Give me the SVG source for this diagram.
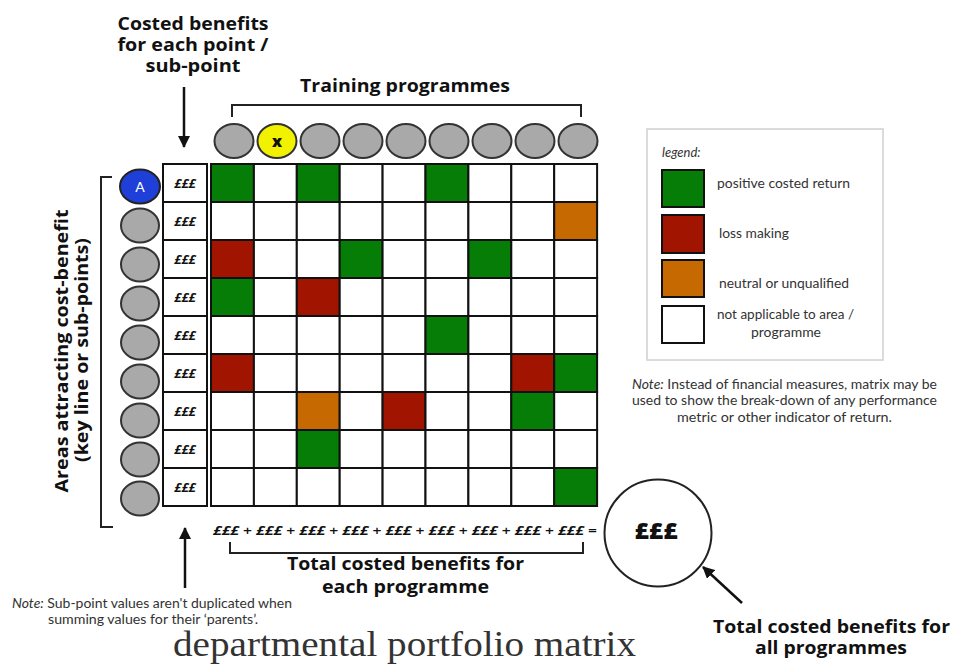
<svg xmlns="http://www.w3.org/2000/svg" width="969" height="667" viewBox="0 0 969 667">
<defs>
<style>
.lbl{font-family:"Open Sans","Liberation Sans",sans-serif;font-weight:700;font-size:17px;fill:#111;text-anchor:middle}
.leg{font-family:Lato,"Liberation Sans",sans-serif;font-size:13px;fill:#333}
.note{font-family:Lato,"Liberation Sans",sans-serif;font-size:12.5px;fill:#333}
.pd{font-family:"Open Sans","Liberation Sans",sans-serif;font-weight:700;font-style:italic;font-size:13px;fill:#111;text-anchor:middle}
.cell{stroke:#111;stroke-width:2}
.w{fill:#fff}.g{fill:#067d06}.r{fill:#a01400}.o{fill:#c66900}
.circ{fill:#a9a9a9;stroke:#333;stroke-width:2}
.ln{fill:none;stroke:#222;stroke-width:2}
.pp{font-weight:700;font-style:italic}
</style>
<marker id="ah" viewBox="0 0 12 12" refX="11" refY="6" markerWidth="12" markerHeight="12" markerUnits="userSpaceOnUse" orient="auto">
<path d="M0,0 L12,6 L0,12 z" fill="#111"/>
</marker>
</defs>
<rect width="969" height="667" fill="#fff"/>

<g id="title-costed">
<text class="lbl" x="193" y="30" textLength="151" lengthAdjust="spacingAndGlyphs">Costed benefits</text>
<text class="lbl" x="193" y="51" textLength="151" lengthAdjust="spacingAndGlyphs">for each point /</text>
<text class="lbl" x="193" y="72" textLength="95" lengthAdjust="spacingAndGlyphs">sub-point</text>
</g>
<g id="title-training">
<text class="lbl" x="405" y="92" textLength="210" lengthAdjust="spacingAndGlyphs">Training programmes</text>
</g>
<g id="title-areas">
<text class="lbl" transform="translate(68,351) rotate(-90)" textLength="283" lengthAdjust="spacingAndGlyphs">Areas attracting cost-benefit</text>
<text class="lbl" transform="translate(88,350) rotate(-90)" textLength="224" lengthAdjust="spacingAndGlyphs">(key line or sub-points)</text>
</g>

<g id="connectors">
<path class="ln" d="M232,117 V105 H581 V117"/>
<path class="ln" d="M112,177 H101 V527 H113"/>
<path class="ln" d="M230,542 V553 H583 V542"/>
<line x1="184" y1="87" x2="184" y2="147" stroke="#111" stroke-width="2.5" marker-end="url(#ah)"/>
<line x1="185" y1="588" x2="185" y2="528" stroke="#111" stroke-width="2.5" marker-end="url(#ah)"/>
<line x1="742" y1="603" x2="703" y2="567" stroke="#111" stroke-width="2.5" marker-end="url(#ah)"/>
</g>

<g id="programmes">
<ellipse class="circ" cx="234" cy="141" rx="19.5" ry="17"/>
<ellipse cx="277" cy="141" rx="19.5" ry="17" fill="#f2f200" stroke="#333" stroke-width="2"/>
<text x="277" y="146.5" font-family="'Open Sans','Liberation Sans',sans-serif" font-weight="800" font-size="16" text-anchor="middle" fill="#111">x</text>
<ellipse class="circ" cx="320" cy="141" rx="19.5" ry="17"/>
<ellipse class="circ" cx="363" cy="141" rx="19.5" ry="17"/>
<ellipse class="circ" cx="406" cy="141" rx="19.5" ry="17"/>
<ellipse class="circ" cx="449" cy="141" rx="19.5" ry="17"/>
<ellipse class="circ" cx="492" cy="141" rx="19.5" ry="17"/>
<ellipse class="circ" cx="535" cy="141" rx="19.5" ry="17"/>
<ellipse class="circ" cx="578" cy="141" rx="19.5" ry="17"/>
</g>

<g id="areas">
<ellipse cx="140" cy="186.5" rx="20" ry="17" fill="#1e40d8" stroke="#222" stroke-width="2"/>
<text x="140" y="192" font-family="Lato,'Liberation Sans',sans-serif" font-size="14" text-anchor="middle" fill="#fff">A</text>
<ellipse class="circ" cx="140" cy="225.5" rx="19" ry="17"/>
<ellipse class="circ" cx="140" cy="264.5" rx="19" ry="17"/>
<ellipse class="circ" cx="140" cy="303.5" rx="19" ry="17"/>
<ellipse class="circ" cx="140" cy="342.5" rx="19" ry="17"/>
<ellipse class="circ" cx="140" cy="381.5" rx="19" ry="17"/>
<ellipse class="circ" cx="140" cy="420.5" rx="19" ry="17"/>
<ellipse class="circ" cx="140" cy="459.5" rx="19" ry="17"/>
<ellipse class="circ" cx="140" cy="498.5" rx="19" ry="17"/>
</g>

<g id="point-costs">
<rect class="cell w" x="163" y="164" width="44" height="38"/>
<rect class="cell w" x="163" y="202" width="44" height="38"/>
<rect class="cell w" x="163" y="240" width="44" height="38"/>
<rect class="cell w" x="163" y="278" width="44" height="38"/>
<rect class="cell w" x="163" y="316" width="44" height="38"/>
<rect class="cell w" x="163" y="354" width="44" height="38"/>
<rect class="cell w" x="163" y="392" width="44" height="38"/>
<rect class="cell w" x="163" y="430" width="44" height="38"/>
<rect class="cell w" x="163" y="468" width="44" height="38"/>
<text class="pd" x="185" y="188">£££</text>
<text class="pd" x="185" y="226">£££</text>
<text class="pd" x="185" y="264">£££</text>
<text class="pd" x="185" y="302">£££</text>
<text class="pd" x="185" y="340">£££</text>
<text class="pd" x="185" y="378">£££</text>
<text class="pd" x="185" y="416">£££</text>
<text class="pd" x="185" y="454">£££</text>
<text class="pd" x="185" y="492">£££</text>
</g>

<g id="matrix">
<rect class="cell g" x="211" y="164" width="42.9" height="38"/>
<rect class="cell w" x="253.9" y="164" width="42.9" height="38"/>
<rect class="cell g" x="296.8" y="164" width="42.9" height="38"/>
<rect class="cell w" x="339.7" y="164" width="42.9" height="38"/>
<rect class="cell w" x="382.6" y="164" width="42.9" height="38"/>
<rect class="cell g" x="425.5" y="164" width="42.9" height="38"/>
<rect class="cell w" x="468.4" y="164" width="42.9" height="38"/>
<rect class="cell w" x="511.3" y="164" width="42.9" height="38"/>
<rect class="cell w" x="554.2" y="164" width="42.9" height="38"/>
<rect class="cell w" x="211" y="202" width="42.9" height="38"/>
<rect class="cell w" x="253.9" y="202" width="42.9" height="38"/>
<rect class="cell w" x="296.8" y="202" width="42.9" height="38"/>
<rect class="cell w" x="339.7" y="202" width="42.9" height="38"/>
<rect class="cell w" x="382.6" y="202" width="42.9" height="38"/>
<rect class="cell w" x="425.5" y="202" width="42.9" height="38"/>
<rect class="cell w" x="468.4" y="202" width="42.9" height="38"/>
<rect class="cell w" x="511.3" y="202" width="42.9" height="38"/>
<rect class="cell o" x="554.2" y="202" width="42.9" height="38"/>
<rect class="cell r" x="211" y="240" width="42.9" height="38"/>
<rect class="cell w" x="253.9" y="240" width="42.9" height="38"/>
<rect class="cell w" x="296.8" y="240" width="42.9" height="38"/>
<rect class="cell g" x="339.7" y="240" width="42.9" height="38"/>
<rect class="cell w" x="382.6" y="240" width="42.9" height="38"/>
<rect class="cell w" x="425.5" y="240" width="42.9" height="38"/>
<rect class="cell g" x="468.4" y="240" width="42.9" height="38"/>
<rect class="cell w" x="511.3" y="240" width="42.9" height="38"/>
<rect class="cell w" x="554.2" y="240" width="42.9" height="38"/>
<rect class="cell g" x="211" y="278" width="42.9" height="38"/>
<rect class="cell w" x="253.9" y="278" width="42.9" height="38"/>
<rect class="cell r" x="296.8" y="278" width="42.9" height="38"/>
<rect class="cell w" x="339.7" y="278" width="42.9" height="38"/>
<rect class="cell w" x="382.6" y="278" width="42.9" height="38"/>
<rect class="cell w" x="425.5" y="278" width="42.9" height="38"/>
<rect class="cell w" x="468.4" y="278" width="42.9" height="38"/>
<rect class="cell w" x="511.3" y="278" width="42.9" height="38"/>
<rect class="cell w" x="554.2" y="278" width="42.9" height="38"/>
<rect class="cell w" x="211" y="316" width="42.9" height="38"/>
<rect class="cell w" x="253.9" y="316" width="42.9" height="38"/>
<rect class="cell w" x="296.8" y="316" width="42.9" height="38"/>
<rect class="cell w" x="339.7" y="316" width="42.9" height="38"/>
<rect class="cell w" x="382.6" y="316" width="42.9" height="38"/>
<rect class="cell g" x="425.5" y="316" width="42.9" height="38"/>
<rect class="cell w" x="468.4" y="316" width="42.9" height="38"/>
<rect class="cell w" x="511.3" y="316" width="42.9" height="38"/>
<rect class="cell w" x="554.2" y="316" width="42.9" height="38"/>
<rect class="cell r" x="211" y="354" width="42.9" height="38"/>
<rect class="cell w" x="253.9" y="354" width="42.9" height="38"/>
<rect class="cell w" x="296.8" y="354" width="42.9" height="38"/>
<rect class="cell w" x="339.7" y="354" width="42.9" height="38"/>
<rect class="cell w" x="382.6" y="354" width="42.9" height="38"/>
<rect class="cell w" x="425.5" y="354" width="42.9" height="38"/>
<rect class="cell w" x="468.4" y="354" width="42.9" height="38"/>
<rect class="cell r" x="511.3" y="354" width="42.9" height="38"/>
<rect class="cell g" x="554.2" y="354" width="42.9" height="38"/>
<rect class="cell w" x="211" y="392" width="42.9" height="38"/>
<rect class="cell w" x="253.9" y="392" width="42.9" height="38"/>
<rect class="cell o" x="296.8" y="392" width="42.9" height="38"/>
<rect class="cell w" x="339.7" y="392" width="42.9" height="38"/>
<rect class="cell r" x="382.6" y="392" width="42.9" height="38"/>
<rect class="cell w" x="425.5" y="392" width="42.9" height="38"/>
<rect class="cell w" x="468.4" y="392" width="42.9" height="38"/>
<rect class="cell g" x="511.3" y="392" width="42.9" height="38"/>
<rect class="cell w" x="554.2" y="392" width="42.9" height="38"/>
<rect class="cell w" x="211" y="430" width="42.9" height="38"/>
<rect class="cell w" x="253.9" y="430" width="42.9" height="38"/>
<rect class="cell g" x="296.8" y="430" width="42.9" height="38"/>
<rect class="cell w" x="339.7" y="430" width="42.9" height="38"/>
<rect class="cell w" x="382.6" y="430" width="42.9" height="38"/>
<rect class="cell w" x="425.5" y="430" width="42.9" height="38"/>
<rect class="cell w" x="468.4" y="430" width="42.9" height="38"/>
<rect class="cell w" x="511.3" y="430" width="42.9" height="38"/>
<rect class="cell w" x="554.2" y="430" width="42.9" height="38"/>
<rect class="cell w" x="211" y="468" width="42.9" height="38"/>
<rect class="cell w" x="253.9" y="468" width="42.9" height="38"/>
<rect class="cell w" x="296.8" y="468" width="42.9" height="38"/>
<rect class="cell w" x="339.7" y="468" width="42.9" height="38"/>
<rect class="cell w" x="382.6" y="468" width="42.9" height="38"/>
<rect class="cell w" x="425.5" y="468" width="42.9" height="38"/>
<rect class="cell w" x="468.4" y="468" width="42.9" height="38"/>
<rect class="cell w" x="511.3" y="468" width="42.9" height="38"/>
<rect class="cell g" x="554.2" y="468" width="42.9" height="38"/>
</g>

<g id="sum-row">
<text x="213" y="535" font-family="'Open Sans','Liberation Sans',sans-serif" font-size="13" font-weight="600" fill="#111" textLength="384" lengthAdjust="spacingAndGlyphs"><tspan class="pp">£££</tspan> + <tspan class="pp">£££</tspan> + <tspan class="pp">£££</tspan> + <tspan class="pp">£££</tspan> + <tspan class="pp">£££</tspan> + <tspan class="pp">£££</tspan> + <tspan class="pp">£££</tspan> + <tspan class="pp">£££</tspan> + <tspan class="pp">£££</tspan> =</text>
</g>
<g id="label-each">
<text class="lbl" x="405.5" y="570" textLength="237" lengthAdjust="spacingAndGlyphs">Total costed benefits for</text>
<text class="lbl" x="405.5" y="593" textLength="167" lengthAdjust="spacingAndGlyphs">each programme</text>
</g>

<g id="total">
<circle cx="658" cy="533" r="53.5" fill="#fff" stroke="#222" stroke-width="2"/>
<text x="656" y="539" font-family="'Open Sans','Liberation Sans',sans-serif" font-weight="800" font-size="23" text-anchor="middle" fill="#111" textLength="43" lengthAdjust="spacingAndGlyphs">£££</text>
</g>
<g id="label-all">
<text class="lbl" x="831.5" y="633" textLength="237" lengthAdjust="spacingAndGlyphs">Total costed benefits for</text>
<text class="lbl" x="831" y="654" textLength="152" lengthAdjust="spacingAndGlyphs">all programmes</text>
</g>

<g id="legend">
<rect x="647" y="129" width="236" height="231" fill="#fff" stroke="#d0d0d0" stroke-width="1.5"/>
<text class="leg" x="662" y="157" font-style="italic" font-size="12">legend:</text>
<rect class="cell g" x="662" y="170" width="42" height="37"/>
<rect class="cell r" x="662" y="215" width="42" height="38"/>
<rect class="cell o" x="662" y="260" width="42" height="37"/>
<rect class="cell w" x="662" y="306" width="42" height="37"/>
<text class="leg" x="717" y="188" textLength="133" lengthAdjust="spacingAndGlyphs">positive costed return</text>
<text class="leg" x="719" y="238" textLength="70" lengthAdjust="spacingAndGlyphs">loss making</text>
<text class="leg" x="719" y="288" textLength="130" lengthAdjust="spacingAndGlyphs">neutral or unqualified</text>
<text class="leg" x="717" y="319" textLength="137" lengthAdjust="spacingAndGlyphs">not applicable to area /</text>
<text class="leg" x="786" y="337" text-anchor="middle" textLength="70" lengthAdjust="spacingAndGlyphs">programme</text>
</g>

<g id="note-legend">
<text class="note" x="632" y="389" textLength="305" lengthAdjust="spacingAndGlyphs"><tspan font-style="italic">Note:</tspan>  Instead of financial measures, matrix may be</text>
<text class="note" x="632" y="405" textLength="305" lengthAdjust="spacingAndGlyphs">used to show the break-down of any performance</text>
<text class="note" x="784.5" y="422" text-anchor="middle" textLength="215" lengthAdjust="spacingAndGlyphs">metric or other indicator of return.</text>
</g>

<g id="note-subpoints">
<text class="note" x="12" y="608" font-size="12" textLength="280" lengthAdjust="spacingAndGlyphs"><tspan font-style="italic">Note:</tspan>  Sub-point values aren't duplicated when</text>
<text class="note" x="48" y="624" font-size="12" textLength="210" lengthAdjust="spacingAndGlyphs">summing values for their ‘parents’.</text>
</g>

<g id="caption">
<text x="173" y="656" font-family="'Liberation Serif',serif" font-size="35" fill="#333" textLength="463" lengthAdjust="spacingAndGlyphs">departmental portfolio matrix</text>
</g>
</svg>
